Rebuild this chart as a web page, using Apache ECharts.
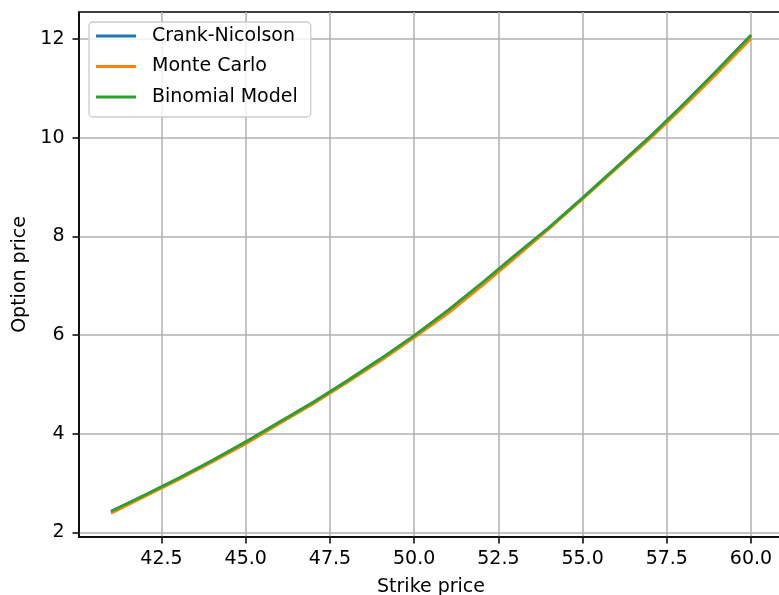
<!DOCTYPE html>
<html>
<head>
<meta charset="utf-8">
<script src="https://cdn.jsdelivr.net/npm/echarts@6/dist/echarts.min.js"></script>
<style>html,body{margin:0;padding:0;background:#fff}#c{width:779px;height:595px}</style>
</head>
<body>
<div id="c"></div>
<script>
const strikes = [41,42,43,44,45,46,47,48,49,50,51,52,53,54,55,56,57,58,59,60];
const crankNicolson = [2.42,2.75,3.09,3.45,3.83,4.23,4.63,5.06,5.51,5.98,6.49,7.04,7.61,8.17,8.77,9.39,10.01,10.67,11.36,12.07];
const monteCarlo = [2.39,2.73,3.07,3.43,3.80,4.21,4.61,5.04,5.48,5.95,6.44,6.99,7.57,8.15,8.76,9.37,9.98,10.63,11.31,12.01];
const binomial = [2.43,2.76,3.10,3.46,3.84,4.24,4.64,5.07,5.52,5.99,6.50,7.05,7.62,8.18,8.78,9.40,10.02,10.68,11.37,12.08];
const xTicks = [42.5,45.0,47.5,50.0,52.5,55.0,57.5,60.0];
const yTicks = [2,4,6,8,10,12];
const seriesNames = ['Crank-Nicolson','Monte Carlo','Binomial Model'];
const colors = ['#1f77b4','#ff7f0e','#2ca02c'];

const pair = arr => strikes.map((k,i)=>[k,arr[i]]);
const font = 'DejaVu Sans';
const chart = echarts.init(document.getElementById('c'));
chart.setOption({
  animation:false,
  backgroundColor:'#fff',
  grid:{left:79,top:12,width:704,height:525,outerBoundsMode:'none',containLabel:false,show:true,borderColor:'#000',borderWidth:1.5,backgroundColor:'transparent'},
  legend:{
    left:89, top:22, orient:'vertical',
    data:seriesNames.map((n,i)=>({name:n,icon:'rect',itemStyle:{color:colors[i]}})),
    itemWidth:40, itemHeight:3, itemGap:10.5,
    padding:[4,13,10,7],
    backgroundColor:'rgba(255,255,255,0.8)', borderColor:'#cccccc', borderWidth:1.3, borderRadius:4,
    textStyle:{fontFamily:font,fontSize:19,color:'#000',lineHeight:20,padding:[0,0,0,11]}
  },
  xAxis:{
    type:'value', min:40.05, max:60.95,
    name:'Strike price', nameLocation:'middle', nameGap:41,
    nameTextStyle:{fontFamily:font,fontSize:19,color:'#000'},
    axisLine:{show:true,onZero:false,lineStyle:{color:'#000',width:1.5}},
    axisTick:{show:true,length:6.5,customValues:xTicks,lineStyle:{color:'#000',width:1.5}},
    axisLabel:{customValues:xTicks,margin:13,fontFamily:font,fontSize:19,color:'#000',formatter:v=>v.toFixed(1)},
    splitLine:{show:true,lineStyle:{color:'#b0b0b0',width:1.5}}
  },
  yAxis:{
    type:'value', min:1.91, max:12.545,
    name:'Option price', nameLocation:'middle', nameGap:46, nameRotate:90,
    nameTextStyle:{fontFamily:font,fontSize:19,color:'#000'},
    axisLine:{show:true,onZero:false,lineStyle:{color:'#000',width:1.5}},
    axisTick:{show:true,length:6.5,customValues:yTicks,lineStyle:{color:'#000',width:1.5}},
    axisLabel:{customValues:yTicks,margin:14.5,fontFamily:font,fontSize:19,color:'#000'},
    splitLine:{show:true,lineStyle:{color:'#b0b0b0',width:1.5}}
  },
  series:[crankNicolson,monteCarlo,binomial].map((d,i)=>({
    name:seriesNames[i], type:'line', data:pair(d), showSymbol:false, symbol:'none',
    lineStyle:{color:colors[i],width:2.8}, itemStyle:{color:colors[i]}, z:2+i
  }))
});
</script>
</body>
</html>
